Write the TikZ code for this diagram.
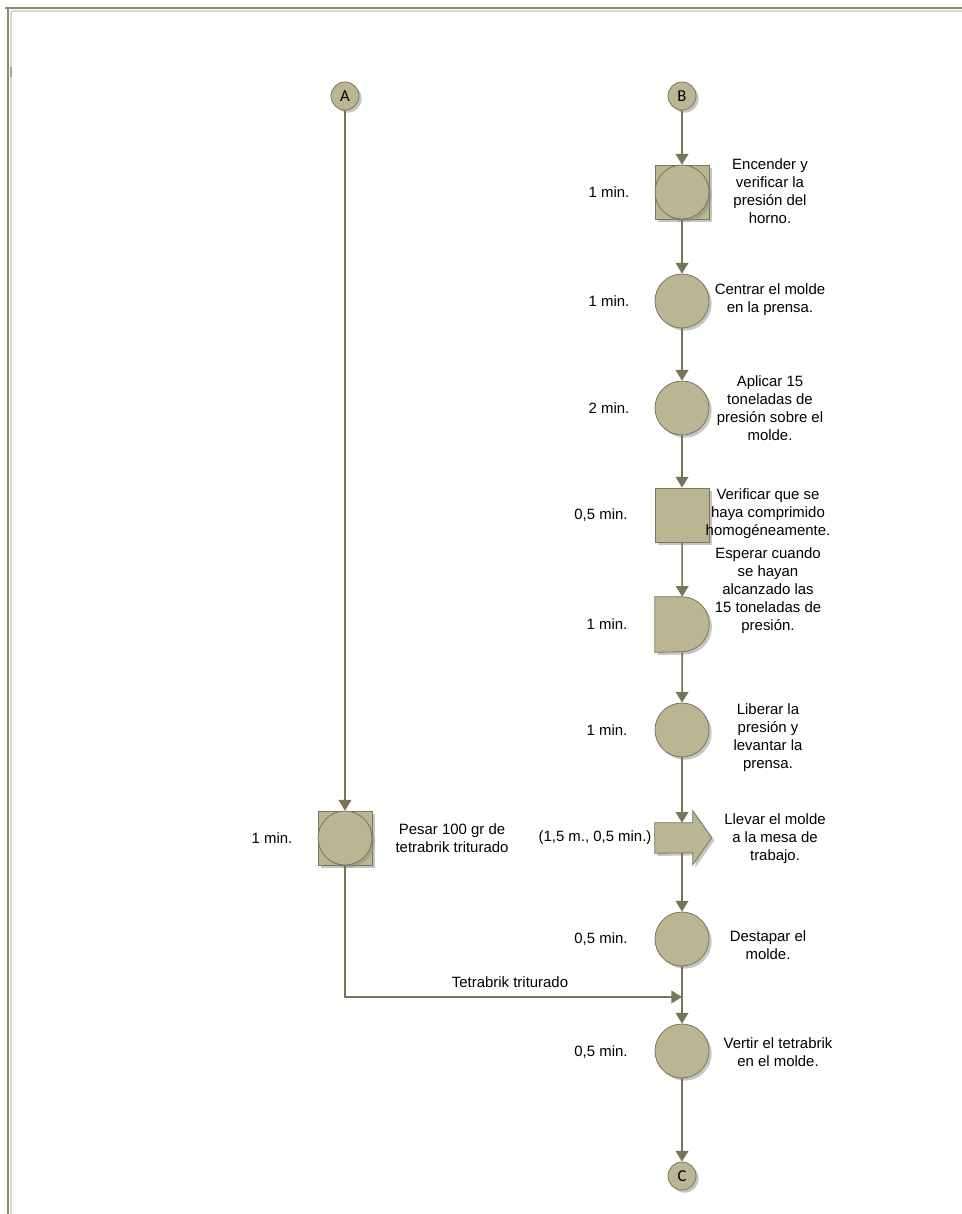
\documentclass[tikz,border=0pt]{standalone}
\usepackage{fontspec}
\setmainfont{Liberation Sans}
\newfontfamily\lblfont{Carlito}
\usetikzlibrary{shadows,arrows.meta}
\definecolor{olfill}{HTML}{BAB693}
\definecolor{olline}{HTML}{7A7759}
\definecolor{connc}{HTML}{76755A}
\definecolor{frameD}{HTML}{8C8C72}
\definecolor{frameL}{HTML}{D9D9CF}
\tikzset{
  shp/.style={fill=olfill, draw=olline, line width=0.6pt,
    drop shadow={shadow xshift=2pt, shadow yshift=-2pt, fill=black!45, opacity=0.5}},
  opc/.style={shp, circle, minimum size=40.5pt, inner sep=0pt},
  insp/.style={shp, rectangle, minimum size=40.5pt, inner sep=0pt},
  term/.style={shp, circle, minimum size=21pt, inner sep=0pt, font=\lblfont\fontsize{12.5pt}{13pt}\selectfont},
  ghost/.style={rectangle, inner sep=0pt},
  flow/.style={draw=connc, line width=1.2pt, -{Triangle[length=8pt,width=9.5pt]}},
  txt/.style={font=\fontsize{11.2pt}{13.5pt}\selectfont, align=center, inner sep=0pt},
}
\begin{document}
\begin{tikzpicture}[x=0.75pt,y=-0.75pt]
\useasboundingbox (0,0) rectangle (962,1214);
% frame
\draw[frameD, line width=1.5pt] (5,8) -- (962,8);
\draw[frameD, line width=1.5pt] (7.5,8) -- (7.5,1214);
\draw[frameL, line width=1.5pt] (11,11) -- (962,11);
\draw[frameL, line width=1.5pt] (11,11) -- (11,1214);
\draw[frameD!80, line width=2pt] (11,67) -- (11,77);

% column B
\node[term] (B) at (682,96) {B};
\node[insp] (o1) at (682,192) {};
\node[opc] (o1c) at (682,192) {};
\node[opc] (o2) at (682,301) {};
\node[opc] (o3) at (682,408) {};
\node[insp] (i4) at (682,515) {};
\node[ghost, minimum width=40.9pt, minimum height=41.25pt] (d5) at (682.3,624.5) {};
\fill[black!45, opacity=0.5] ([xshift=2pt,yshift=-2pt]d5.north west) -- ++(20.25pt,0) arc[start angle=90, end angle=-90, radius=20.625pt] -- ([xshift=2pt,yshift=-2pt]d5.south west) -- cycle;
\draw[fill=olfill, draw=olline, line width=0.6pt] (d5.north west) -- ++(20.25pt,0) arc[start angle=90, end angle=-90, radius=20.625pt] -- (d5.south west) -- cycle;
\node[opc] (o6) at (682,730) {};
\node[ghost, minimum width=40.5pt, minimum height=22.5pt] (t7) at (682,838) {};
\fill[black!45, opacity=0.5] ([xshift=2pt,yshift=-2pt]t7.north west) -- ++(28.5pt,0) -- ++(0,9pt) -- ++(14.25pt,-20.25pt) -- ++(-14.25pt,-20.25pt) -- ++(0,9pt) -- ([xshift=2pt,yshift=-2pt]t7.south west) -- cycle;
\draw[fill=olfill, draw=olline, line width=0.6pt] (t7.north west) -- ++(28.5pt,0) -- ++(0,9pt) -- ++(14.25pt,-20.25pt) -- ++(-14.25pt,-20.25pt) -- ++(0,9pt) -- (t7.south west) -- cycle;
\node[opc] (o8) at (682,939) {};
\node[opc] (o9) at (682,1051) {};
\node[term] (C) at (682,1176) {C};
\coordinate (j) at (682,997);

% column A
\node[term] (A) at (345,96) {A};
\node[insp] (a1) at (345,838) {};
\node[opc] (a1c) at (345,838) {};

% connectors
\draw[flow] (B) -- (o1);
\draw[flow] (o1) -- (o2);
\draw[flow] (o2) -- (o3);
\draw[flow] (o3) -- (i4);
\draw[flow] (i4) -- (d5);
\draw[flow] (d5) -- (o6);
\draw[flow] (o6) -- (t7);
\draw[flow] (t7) -- (o8);
\draw[flow] (o8) -- (o9);
\draw[flow] (o9) -- (C);
\draw[flow] (A) -- (a1);
\draw[flow] (a1) |- (j);

% times
\node[txt] (tm1) at (609,192) {1 min.};
\node[txt] (tm2) at (609,301) {1 min.};
\node[txt] (tm3) at (609,408) {2 min.};
\node[txt] (tm4) at (601,515) {0,5 min.};
\node[txt] (tm5) at (607,624) {1 min.};
\node[txt] (tm6) at (607,730) {1 min.};
\node[txt] (tm7) at (595,838) {(1,5 m., 0,5 min.)};
\node[txt] (tm8) at (601,939) {0,5 min.};
\node[txt] (tm9) at (601,1052) {0,5 min.};
\node[txt] (tma) at (272,838) {1 min.};

% descriptions
\node[txt] (ds1) at (770,191) {Encender y\\verificar la\\presión del\\horno.};
\node[txt] (ds2) at (770,300) {Centrar el molde\\en la prensa.};
\node[txt] (ds3) at (770,408) {Aplicar 15\\toneladas de\\presión sobre el\\molde.};
\node[txt] (ds4) at (768,514) {Verificar que se\\haya comprimido\\homogéneamente.};
\node[txt] (ds5) at (768,591) {Esperar cuando\\se hayan\\alcanzado las\\15 toneladas de\\presión.};
\node[txt] (ds6) at (768,738) {Liberar la\\presión y\\levantar la\\prensa.};
\node[txt] (ds7) at (775,839) {Llevar el molde\\a la mesa de\\trabajo.};
\node[txt] (ds8) at (768,945) {Destapar el\\molde.};
\node[txt] (ds9) at (778,1052) {Vertir el tetrabrik\\en el molde.};
\node[txt] (dsa) at (452,838) {Pesar 100 gr de\\tetrabrik triturado};
\node[txt] (lbj) at (510,982) {Tetrabrik triturado};
\end{tikzpicture}
\end{document}
